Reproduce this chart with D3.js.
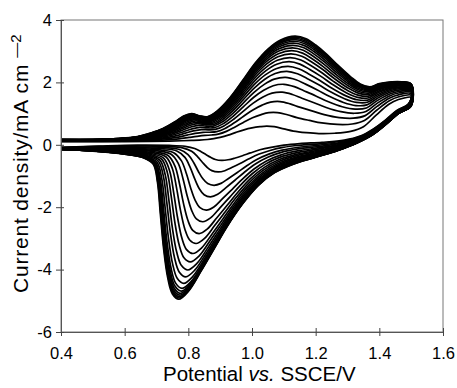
<!DOCTYPE html>
<html><head><meta charset="utf-8">
<script src="https://cdn.jsdelivr.net/npm/d3@7"></script>
<style>body{margin:0;background:#fff}svg{display:block}</style>
</head><body>
<svg id="c" width="457" height="388"></svg>
<script>
// ---- tick labels ----
const xTicks = [0.4, 0.6, 0.8, 1.0, 1.2, 1.4, 1.6];
const xTickLabels = ["0.4", "0.6", "0.8", "1.0", "1.2", "1.4", "1.6"];
const yTicks = [4, 2, 0, -2, -4, -6];
const yTickLabels = ["4", "2", "0", "-2", "-4", "-6"];

// ---- innermost cycle (first), forward (anodic) sweep ----
const firstFwdE = [0.40,0.50,0.60,0.68,0.74,0.78,0.81,0.835,0.86,0.88,0.90,0.925,0.95,0.975,1.00,1.025,1.046,1.07,1.10,1.13,1.17,1.21,1.26,1.31,1.35,1.39,1.43,1.46,1.50];
const firstFwdI = [0.10,0.10,0.10,0.11,0.12,0.13,0.14,0.15,0.17,0.20,0.24,0.31,0.40,0.48,0.54,0.58,0.60,0.58,0.51,0.44,0.39,0.36,0.37,0.43,0.58,0.95,1.30,1.45,1.52];
// ---- outermost cycle (last), forward sweep ----
const lastFwdE = [0.40,0.50,0.58,0.64,0.68,0.72,0.76,0.785,0.81,0.835,0.86,0.89,0.93,0.97,1.01,1.05,1.09,1.135,1.17,1.20,1.235,1.27,1.31,1.34,1.37,1.40,1.44,1.47,1.50];
const lastFwdI = [0.17,0.17,0.20,0.26,0.37,0.52,0.75,0.92,1.00,0.93,0.90,1.08,1.50,2.05,2.62,3.07,3.36,3.48,3.40,3.20,2.90,2.55,2.18,1.95,1.86,1.96,2.02,2.02,1.95];

// ---- innermost cycle, reverse (cathodic) sweep ----
const firstRevE = [1.49,1.455,1.42,1.38,1.34,1.29,1.22,1.15,1.10,1.06,1.025,0.995,0.97,0.945,0.925,0.905,0.885,0.87,0.855,0.84,0.82,0.79,0.74,0.64,0.52,0.40];
const firstRevI = [1.30,1.10,0.80,0.50,0.28,0.15,0.08,0.04,-0.01,-0.08,-0.16,-0.26,-0.35,-0.43,-0.48,-0.50,-0.47,-0.40,-0.31,-0.22,-0.12,-0.05,-0.02,-0.01,-0.04,-0.08];
// ---- outermost cycle, reverse sweep ----
const lastRevE = [1.50,1.46,1.42,1.38,1.33,1.27,1.20,1.13,1.07,1.02,0.97,0.92,0.88,0.84,0.80,0.77,0.75,0.735,0.722,0.712,0.703,0.69,0.66,0.60,0.50,0.40];
const lastRevI = [1.25,1.00,0.65,0.33,0.06,-0.18,-0.40,-0.62,-0.90,-1.30,-1.90,-2.65,-3.35,-4.05,-4.70,-4.95,-4.78,-4.25,-3.30,-2.20,-1.20,-0.62,-0.42,-0.30,-0.20,-0.15];

// ---- peak currents of every cycle ----
const anodicPeaks = [0.60,1.05,1.40,1.70,1.95,2.17,2.36,2.52,2.67,2.80,2.92,3.02,3.11,3.19,3.26,3.32,3.37,3.41,3.45,3.48];
const cathodicPeaks = [-0.50,-0.87,-1.30,-1.67,-2.10,-2.47,-2.85,-3.17,-3.49,-3.76,-4.02,-4.24,-4.45,-4.61,-4.70,-4.77,-4.83,-4.88,-4.92,-4.96];

const svg = d3.select("#c");
const x = d3.scaleLinear().domain([0.4, 1.6]).range([61, 443]);
const y = d3.scaleLinear().domain([-6, 4]).range([332, 20]);

// frame
svg.append("rect").attr("x", 61).attr("y", 20).attr("width", 382).attr("height", 312)
  .attr("fill", "none").attr("stroke", "#777").attr("stroke-width", 1);

// build cycles by matching feature points of the first and last cycle
const line = d3.line().x(d => x(d[0])).y(d => y(d[1])).curve(d3.curveCatmullRom.alpha(0.5));
const g = svg.append("g");
const aMin = anodicPeaks[0], aMax = anodicPeaks[anodicPeaks.length - 1];
const cMin = cathodicPeaks[0], cMax = cathodicPeaks[cathodicPeaks.length - 1];
anodicPeaks.forEach((ap, k) => {
  const wa = (ap - aMin) / (aMax - aMin);
  const wc = (cathodicPeaks[k] - cMin) / (cMax - cMin);
  const pts = [];
  firstFwdE.forEach((e, i) => pts.push([e + wa * (lastFwdE[i] - e), firstFwdI[i] + wa * (lastFwdI[i] - firstFwdI[i])]));
  firstRevE.forEach((e, i) => pts.push([e + wc * (lastRevE[i] - e), firstRevI[i] + wc * (lastRevI[i] - firstRevI[i])]));
  g.append("path").attr("d", line(pts)).attr("fill", "none")
    .attr("stroke", "#000").attr("stroke-width", 1.7).attr("stroke-linejoin", "round");
});

// axes
const font = "Arial, 'Liberation Sans', Helvetica, sans-serif";
const xAxis = svg.append("g").attr("transform", "translate(0,332)")
  .call(d3.axisBottom(x).tickValues(xTicks).tickFormat((d, i) => xTickLabels[i]).tickSizeInner(4).tickSizeOuter(0).tickPadding(11));
const yAxis = svg.append("g").attr("transform", "translate(61,0)")
  .call(d3.axisLeft(y).tickValues(yTicks).tickFormat((d, i) => yTickLabels[i]).tickSizeInner(5).tickSizeOuter(0).tickPadding(4));
[xAxis, yAxis].forEach(a => {
  a.select(".domain").attr("stroke", "#555");
  a.selectAll(".tick line").attr("stroke", "#444");
  a.selectAll("text").attr("font-family", font).attr("font-size", 16.5).attr("fill", "#000");
});
// inner part of the ticks (ticks cross the axis)
xAxis.selectAll(".tick").append("line").attr("y1", 0).attr("y2", -4).attr("stroke", "#444");
yAxis.selectAll(".tick").append("line").attr("x1", 0).attr("x2", 3).attr("stroke", "#444");

// titles
const xt = svg.append("text").attr("x", 163).attr("y", 381)
  .attr("font-family", font).attr("font-size", 20.5).attr("fill", "#000");
xt.append("tspan").text("Potential ");
xt.append("tspan").attr("font-style", "italic").text("vs.");
xt.append("tspan").text(" SSCE/V");

const yt = svg.append("text").attr("transform", "translate(28,293) rotate(-90)")
  .attr("font-family", font).attr("font-size", 21).attr("fill", "#000");
yt.append("tspan").attr("letter-spacing", 0.8).text("Current density/mA cm");
yt.append("tspan").attr("font-size", 15).attr("dx", 6).attr("dy", -7).text("\u2014");
yt.append("tspan").attr("font-size", 15).text("2");
</script>
</body></html>
